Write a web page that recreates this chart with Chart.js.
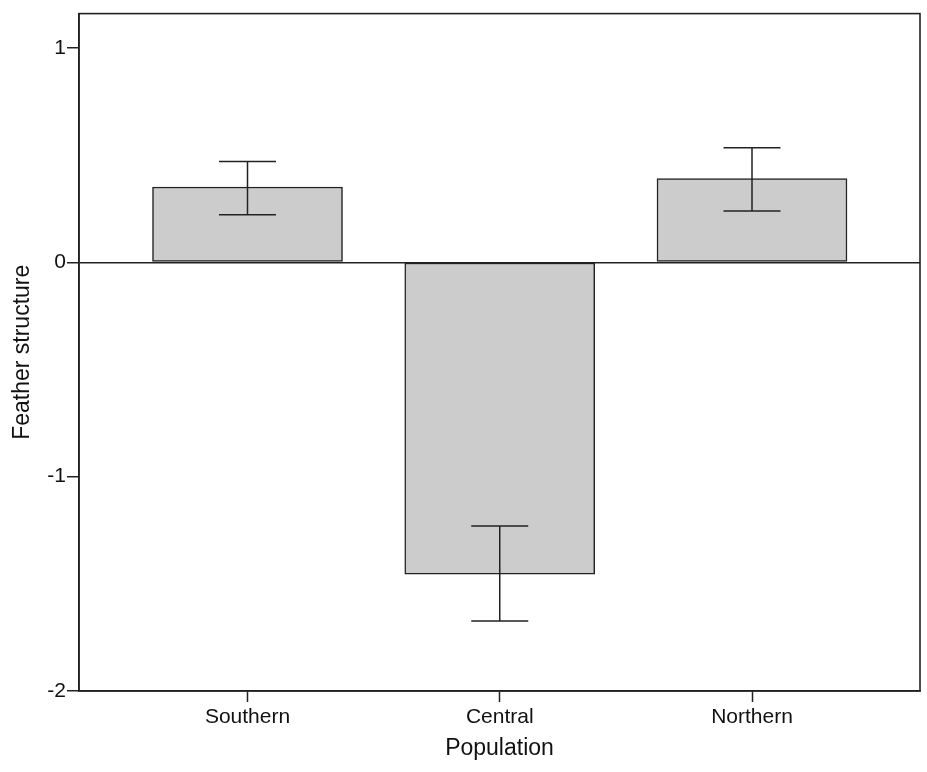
<!DOCTYPE html>
<html>
<head>
<meta charset="utf-8">
<script src="https://cdn.jsdelivr.net/npm/chart.js@4/dist/chart.umd.min.js"></script>
<style>
html,body{margin:0;padding:0;background:#fff;}
#wrap{width:927px;height:772px;position:relative;}
</style>
</head>
<body>
<div id="wrap"><canvas id="c" width="927" height="772"></canvas></div>
<script>
const categories = ['Southern', 'Central', 'Northern'];
const means = [0.351, -1.455, 0.39];
const errLow = [0.222, -1.674, 0.239];
const errHigh = [0.470, -1.230, 0.534];
const yTicks = [-2, -1, 0, 1];
const xTicks = [0, 1, 2];

const INK = '#222222';

const frameAndErrors = {
  id: 'frameAndErrors',
  afterDatasetsDraw(chart) {
    const ctx = chart.ctx;
    const x = chart.scales.x, y = chart.scales.y;
    ctx.save();
    ctx.strokeStyle = INK;
    ctx.lineWidth = 1.5;
    const capHalf = 28.5;
    categories.forEach((c, i) => {
      const px = x.getPixelForValue(i);
      const yl = y.getPixelForValue(errLow[i]);
      const yh = y.getPixelForValue(errHigh[i]);
      ctx.beginPath();
      ctx.moveTo(px, yl); ctx.lineTo(px, yh);
      ctx.moveTo(px - capHalf, yl); ctx.lineTo(px + capHalf, yl);
      ctx.moveTo(px - capHalf, yh); ctx.lineTo(px + capHalf, yh);
      ctx.stroke();
    });
    const a = chart.chartArea;
    ctx.lineWidth = 1.6;
    ctx.strokeRect(a.left, a.top, a.right - a.left, a.bottom - a.top);
    ctx.restore();
  }
};

new Chart(document.getElementById('c'), {
  type: 'bar',
  data: {
    datasets: [{
      data: categories.map((c, i) => ({x: i, y: means[i]})),
      backgroundColor: '#cccccc',
      borderColor: INK,
      borderWidth: 1.5,
      borderSkipped: false,
      barThickness: 190
    }]
  },
  options: {
    responsive: false,
    animation: false,
    devicePixelRatio: 1,
    layout: {padding: {top: 10, right: 7, left: 0, bottom: 0}},
    plugins: {legend: {display: false}, tooltip: {enabled: false}},
    scales: {
      x: {
        type: 'linear',
        min: -0.668,
        max: 2.666,
        offset: false,
        afterBuildTicks(s) { s.ticks = xTicks.map(v => ({value: v})); },
        afterFit(s) { s.height = 81; },
        ticks: {
          callback: v => categories[v],
          color: '#111',
          font: {family: 'Liberation Sans', size: 21},
          padding: 3,
          maxRotation: 0,
          autoSkip: false
        },
        grid: {offset: false, drawOnChartArea: false, drawTicks: true, tickLength: 11, tickColor: INK, tickWidth: 1.5},
        border: {display: true, color: INK, width: 1.6},
        title: {display: true, text: 'Population', color: '#111', font: {family: 'Liberation Sans', size: 23}, padding: {top: 0, bottom: 10}}
      },
      y: {
        min: -2,
        max: 1.16,
        afterBuildTicks(s) { s.ticks = yTicks.map(v => ({value: v})); },
        afterFit(s) { s.width = 79; },
        ticks: {
          color: '#111',
          font: {family: 'Liberation Sans', size: 21},
          padding: 1
        },
        grid: {
          drawOnChartArea: true,
          color: ctx => (ctx.tick && ctx.tick.value === 0) ? INK : 'rgba(0,0,0,0)',
          lineWidth: 1.5,
          drawTicks: true,
          tickLength: 12,
          tickColor: INK,
          tickWidth: 1.5
        },
        border: {display: true, color: INK, width: 1.6},
        title: {display: true, text: 'Feather structure', color: '#111', font: {family: 'Liberation Sans', size: 23}, padding: {top: 9, bottom: 0}}
      }
    }
  },
  plugins: [frameAndErrors]
});
</script>
</body>
</html>
